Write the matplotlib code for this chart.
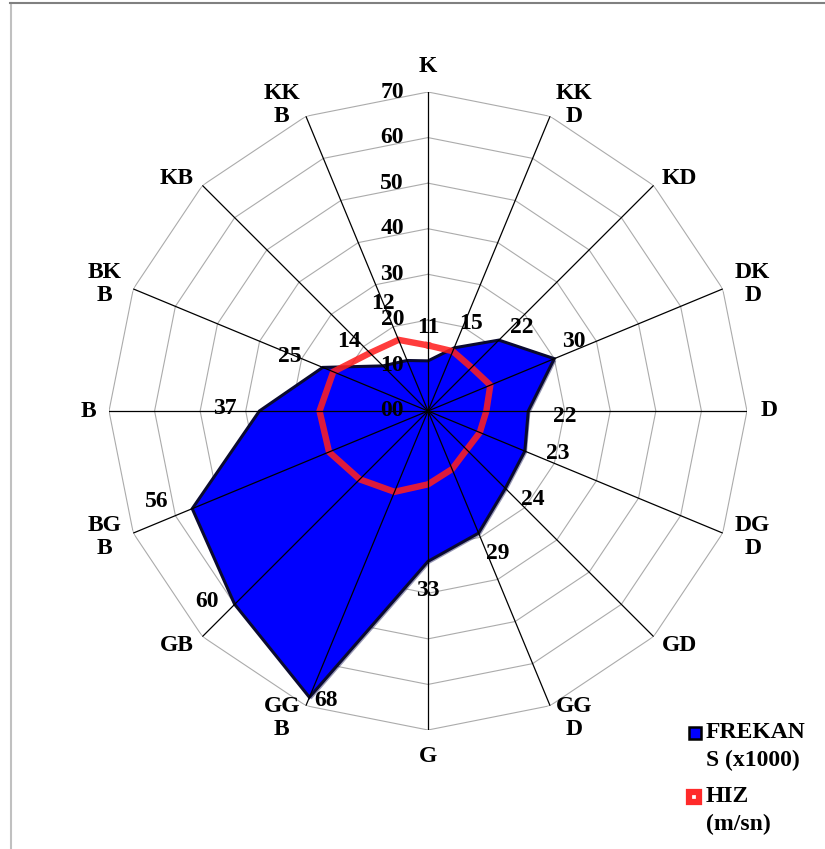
import numpy as np
import matplotlib.pyplot as plt
from matplotlib.lines import Line2D
from matplotlib import patheffects as pe

directions = ['K', 'KKD', 'KD', 'DKD', 'D', 'DGD', 'GD', 'GGD',
              'G', 'GGB', 'GB', 'BGB', 'B', 'BKB', 'KB', 'KKB']
dir_labels = ['K', 'KK\nD', 'KD', 'DK\nD', 'D', 'DG\nD', 'GD', 'GG\nD',
              'G', 'GG\nB', 'GB', 'BG\nB', 'B', 'BK\nB', 'KB', 'KK\nB']
frekans = [11, 15, 22, 30, 22, 23, 24, 29, 33, 68, 60, 56, 37, 25, 14, 12]
hiz = [14.4, 14.2, 13.5, 14.8, 12.8, 12.3, 12.0, 13.8,
       16.1, 19.2, 21.2, 23.5, 23.8, 22.5, 18.0, 16.9]
r_ticks = [0, 10, 20, 30, 40, 50, 60, 70]
r_tick_labels = ['00', '10', '20', '30', '40', '50', '60', '70']

# label offsets in pixels (x right, y up)
dir_offsets = [(0, 25), (24, 11), (26, 7), (30, 5), (22, 0), (30, -4), (26, -9), (24, -12),
               (0, -27), (-24, -12), (-26, -9), (-29, -4), (-21, 0), (-29, 5), (-26, 7), (-24, 11)]
val_offsets = [(0, 33), (17, 24), (23, 13), (20, 17), (36, -5), (33, -2), (27, -11), (19, -20),
               (0, -29), (17, -3), (-28, 3), (-35, 7), (-35, 2), (-33, 11), (-34, 24), (-24, 57)]

W, H = 825, 849
fig = plt.figure(figsize=(W / 100, H / 100), dpi=100)
cx, cy, rad = 428, 411, 319
ax = fig.add_axes([(cx - rad) / W, (H - cy - rad) / H, 2 * rad / W, 2 * rad / H],
                  projection='polar')
ax.set_theta_zero_location('N')
ax.set_theta_direction(-1)
ax.set_ylim(0, 70)
ax.axis('off')

font = dict(family='Liberation Serif', fontweight='bold', fontsize=17)

theta = np.linspace(0, 2 * np.pi, len(directions), endpoint=False)
theta_c = np.append(theta, theta[0])

# polygon grid
for r in r_ticks[1:]:
    ax.plot(theta_c, [r] * len(theta_c), color='#ababab', lw=0.8, zorder=1)

# frequency area
f_c = frekans + frekans[:1]
ax.fill(theta_c, f_c, facecolor='#0000ff', edgecolor='#0a0a30', lw=2.2, zorder=2,
        path_effects=[pe.SimplePatchShadow(offset=(1.5, -1.5), alpha=0.4), pe.Normal()])

# speed line
h_c = hiz + hiz[:1]
ax.plot(theta_c, h_c, color='#ff1f1f', lw=4.6, alpha=0.87, zorder=3, solid_joinstyle='miter')

# spokes
for t in theta:
    ax.plot([t, t], [0, 70], color='black', lw=0.9, zorder=4)

# radial tick labels
for r, lab in zip(r_ticks, r_tick_labels):
    ax.annotate(lab, xy=(0, r), xytext=(-24, 0), textcoords='offset pixels',
                ha='right', va='center', zorder=6, **font)

# direction labels
for t, lab, off in zip(theta, dir_labels, dir_offsets):
    ax.annotate(lab, xy=(t, 70), xytext=off, textcoords='offset pixels',
                ha='center', va='center', linespacing=1.1, zorder=6, **font)

# value labels
for t, v, off in zip(theta, frekans, val_offsets):
    ax.annotate(str(v), xy=(t, v), xytext=off, textcoords='offset pixels',
                ha='center', va='center', zorder=6, **font)

# legend
fig.add_artist(Line2D([695 / W], [1 - 733 / H], marker='s', markersize=9,
                      markerfacecolor='#0000ff', markeredgecolor='black',
                      markeredgewidth=1.8, transform=fig.transFigure))
fig.add_artist(Line2D([694 / W], [1 - 797 / H], marker='s', markersize=7,
                      markerfacecolor='white', markeredgecolor='#ff2a2a',
                      markeredgewidth=4.5, transform=fig.transFigure))
fig.text(706 / W, 1 - 732 / H, 'FREKAN', ha='left', va='center', **font)
fig.text(706 / W, 1 - 760 / H, 'S (x1000)', ha='left', va='center', **font)
fig.text(706 / W, 1 - 797 / H, 'HIZ', ha='left', va='center', **font)
fig.text(706 / W, 1 - 824 / H, '(m/sn)', ha='left', va='center', **font)

# frame
fig.add_artist(Line2D([10.5 / W, 10.5 / W], [0, 1 - 3 / H], color='#c0c0c0', lw=1.5,
                      transform=fig.transFigure))
fig.add_artist(Line2D([10 / W, 1], [1 - 3 / H, 1 - 3 / H], color='#808080', lw=1.5,
                      transform=fig.transFigure))

fig.savefig('out.png', dpi=100)
